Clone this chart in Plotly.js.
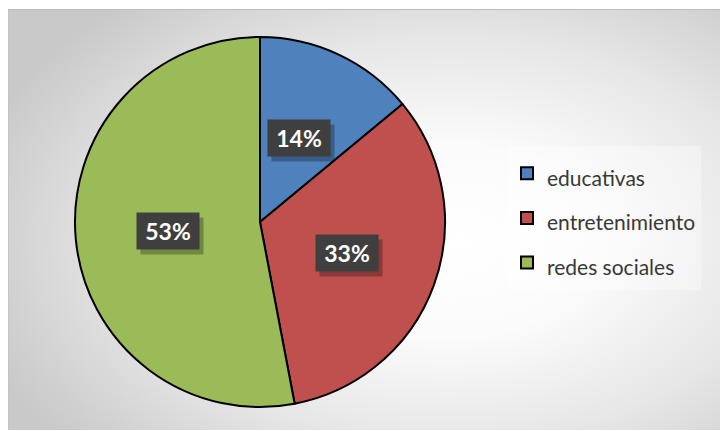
<!DOCTYPE html>
<html>
<head>
<meta charset="utf-8">
<script src="https://cdn.plot.ly/plotly-3.0.1.min.js"></script>
<style>
  html, body { margin: 0; padding: 0; background: #ffffff; }
  #wrap { position: relative; width: 720px; height: 431px; background: #ffffff; overflow: hidden; }
  #panel { position: absolute; left: 8px; top: 9px; width: 712px; height: 421px;
    background: radial-gradient(ellipse 70% 75% at 62% 55%, #ffffff 0%, #fbfbfb 30%, #e6e6e6 65%, #c9c9c9 100%);
    border-top: 1px solid #bdbdbd; border-left: 1px solid #c4c4c4; box-sizing: border-box; }
  #chart { position: absolute; left: 0; top: 0; width: 720px; height: 431px; }
</style>
</head>
<body>
<div id="wrap">
  <div id="panel"></div>
  <div id="chart"></div>
</div>
<script>
const categories = ["educativas", "entretenimiento", "redes sociales"];
const values = [14, 33, 53];
const sliceColors = ["#4F81BD", "#C0504D", "#9BBB59"];

const W = 720, H = 431;
const cx = 260, cy = 222, R = 185;   // pie centre / radius in px
const dom = {
  x: [(cx - R) / W, (cx + R) / W],
  y: [(H - cy - R) / H, (H - cy + R) / H]
};

const trace = {
  type: "pie",
  labels: categories.map(c => '<span style="font-size:21px">' + c + '</span>'),
  values: values,
  sort: false,
  direction: "clockwise",
  rotation: 0,
  textinfo: "none",
  hoverinfo: "label+percent",
  marker: { colors: sliceColors, line: { color: "#000000", width: 2 } },
  domain: dom
};

// data labels placed at mid-angle of each slice
const total = values.reduce((a, b) => a + b, 0);
const annotations = [];
let cum = 0;
values.forEach((v, i) => {
  const mid = (cum + v / 2) / total * 2 * Math.PI;
  cum += v;
  const k = 0.5 * R;
  const px = cx + k * Math.sin(mid);
  const py = cy - k * Math.cos(mid);
  const pct = Math.round(v / total * 100) + "%";
  const base = {
    xref: "paper", yref: "paper", x: px / W, y: (H - py) / H,
    xanchor: "center", yanchor: "middle",
    showarrow: false, width: 58, height: 32, borderpad: 2,
    font: { family: "Lato, 'Open Sans', sans-serif", size: 23, weight: 700 }
  };
  // drop shadow box (no text)
  annotations.push(Object.assign({}, base, {
    text: " ", bgcolor: "rgba(0,0,0,0.28)",
    font: Object.assign({}, base.font, { color: "rgba(0,0,0,0)" }),
    xshift: 4, yshift: -5
  }));
  annotations.push(Object.assign({}, base, {
    text: "<b>" + pct + "</b>", bgcolor: "#3f3f3f",
    font: Object.assign({}, base.font, { color: "#ffffff" })
  }));
});

const layout = {
  width: W, height: H,
  margin: { l: 0, r: 0, t: 0, b: 0 },
  paper_bgcolor: "rgba(0,0,0,0)",
  plot_bgcolor: "rgba(0,0,0,0)",
  showlegend: true,
  legend: {
    x: 507 / W, y: (H - 146) / H, xanchor: "left", yanchor: "top",
    bgcolor: "rgba(255,255,255,0.35)",
    font: { family: "Lato, 'Open Sans', sans-serif", size: 32, color: "#383838" },
    traceorder: "normal"
  },
  annotations: annotations
};

Plotly.newPlot("chart", [trace], layout, { displayModeBar: false, staticPlot: true });
</script>
</body>
</html>
